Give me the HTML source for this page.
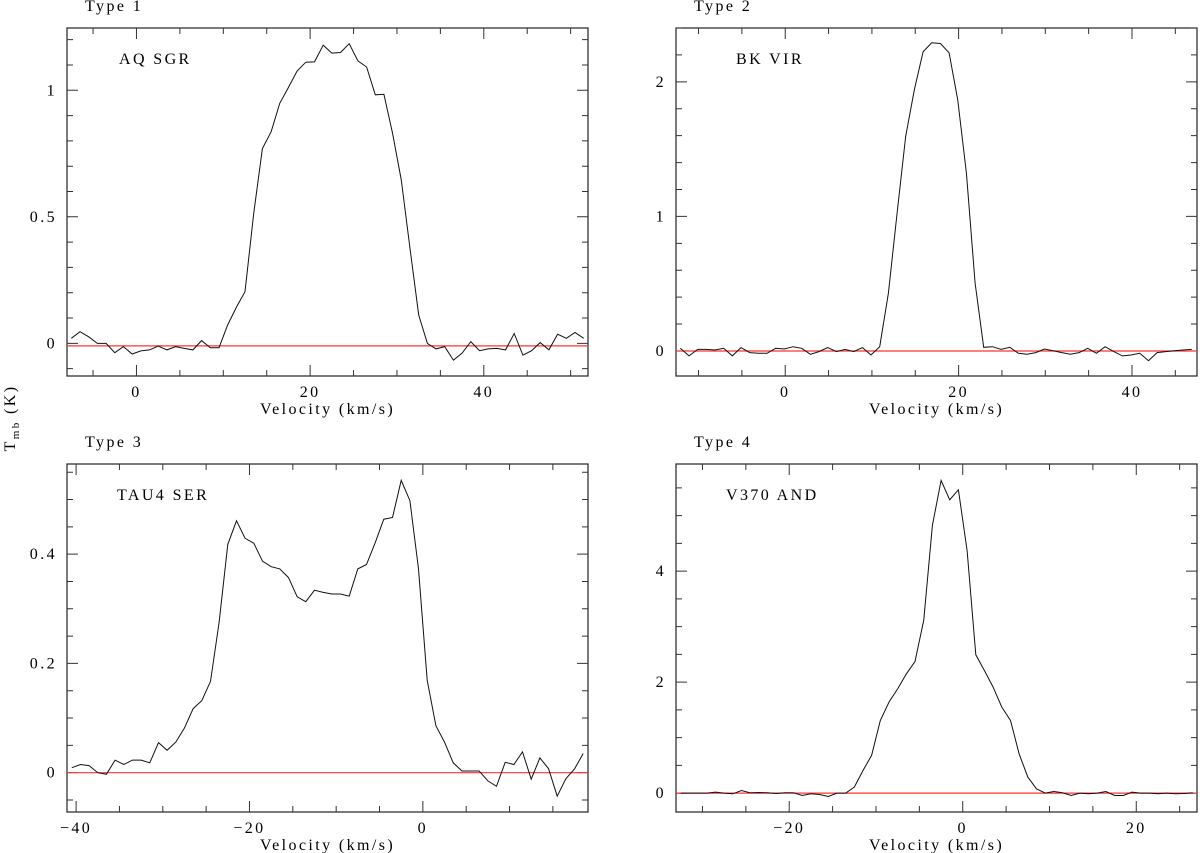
<!DOCTYPE html>
<html><head><meta charset="utf-8">
<style>
html,body{margin:0;padding:0;background:#fff;}
svg{display:block;font-family:"Liberation Serif","DejaVu Serif",serif;}
.lab{letter-spacing:2.4px;}
</style></head>
<body>
<svg id="fig" width="1200" height="853" viewBox="0 0 1200 853" xmlns="http://www.w3.org/2000/svg">
<text class="lab" transform="translate(15,418) rotate(-90)" text-anchor="middle" font-size="16" fill="#000">T<tspan font-size="11" dy="4">mb</tspan><tspan dy="-4"> (K)</tspan></text>
</svg>
<script>
// Panel 1: AQ SGR
const vel1 = [-7.5,-6.5,-5.5,-4.5,-3.5,-2.5,-1.5,-0.5,0.5,1.5,2.5,3.5,4.5,5.5,6.5,7.5,8.5,9.5,10.5,11.5,12.5,13.5,14.5,15.5,16.5,17.5,18.5,19.5,20.5,21.5,22.5,23.5,24.5,25.5,26.5,27.5,28.5,29.5,30.5,31.5,32.5,33.5,34.5,35.5,36.5,37.5,38.5,39.5,40.5,41.5,42.5,43.5,44.5,45.5,46.5,47.5,48.5,49.5,50.5,51.5];
const tmb1 = [0.020,0.046,0.026,0,0,-0.037,-0.013,-0.042,-0.030,-0.026,-0.011,-0.026,-0.013,-0.020,-0.026,0.011,-0.017,-0.017,0.072,0.142,0.204,0.513,0.770,0.836,0.948,1.011,1.076,1.111,1.112,1.178,1.147,1.149,1.184,1.116,1.092,0.982,0.984,0.829,0.645,0.375,0.112,0,-0.022,-0.013,-0.066,-0.039,0.007,-0.029,-0.022,-0.020,-0.026,0.039,-0.047,-0.029,0.003,-0.026,0.036,0.020,0.043,0.020];
const xTicks1 = [0,20,40];
const yTicks1 = [0,0.5,1];
const yTickLabels1 = ["0","0.5","1"];
// Panel 2: BK VIR
const vel2 = [-12.1,-11.1,-10.1,-9.1,-8.1,-7.1,-6.1,-5.1,-4.1,-3.1,-2.1,-1.1,-0.1,0.9,1.9,2.9,3.9,4.9,5.9,6.9,7.9,8.9,9.9,10.9,11.9,12.9,13.9,14.9,15.9,16.9,17.9,18.9,19.9,20.9,21.9,22.9,23.9,24.9,25.9,26.9,27.9,28.9,29.9,30.9,31.9,32.9,33.9,34.9,35.9,36.9,37.9,38.9,39.9,40.9,41.9,42.9,43.9,44.9,45.9,46.9];
const tmb2 = [0.020,-0.037,0.012,0.012,0.007,0.020,-0.037,0.025,-0.012,-0.017,-0.017,0.020,0.015,0.032,0.020,-0.025,-0.005,0.025,-0.005,0.012,-0.005,0.025,-0.030,0.032,0.429,1.025,1.596,1.943,2.223,2.290,2.285,2.216,1.868,1.323,0.504,0.027,0.032,0.012,0.027,-0.017,-0.025,-0.012,0.015,0.002,-0.012,-0.025,-0.012,0.020,-0.017,0.032,-0.005,-0.037,-0.030,-0.017,-0.072,-0.012,-0.005,0.002,0.007,0.012];
const xTicks2 = [0,20,40];
const yTicks2 = [0,1,2];
const yTickLabels2 = ["0","1","2"];
// Panel 3: TAU4 SER
const vel3 = [-40.5,-39.5,-38.5,-37.5,-36.5,-35.5,-34.5,-33.5,-32.5,-31.5,-30.5,-29.5,-28.5,-27.5,-26.5,-25.5,-24.5,-23.5,-22.5,-21.5,-20.5,-19.5,-18.5,-17.5,-16.5,-15.5,-14.5,-13.5,-12.5,-11.5,-10.5,-9.5,-8.5,-7.5,-6.5,-5.5,-4.5,-3.5,-2.5,-1.5,-0.5,0.5,1.5,2.5,3.5,4.5,5.5,6.5,7.5,8.5,9.5,10.5,11.5,12.5,13.5,14.5,15.5,16.5,17.5,18.5];
const tmb3 = [0.009,0.015,0.013,0,-0.003,0.023,0.015,0.023,0.023,0.018,0.055,0.041,0.056,0.082,0.117,0.132,0.167,0.275,0.418,0.461,0.429,0.420,0.387,0.377,0.373,0.357,0.322,0.313,0.334,0.330,0.327,0.327,0.323,0.373,0.381,0.421,0.464,0.467,0.535,0.498,0.373,0.169,0.086,0.056,0.018,0.003,0.003,0.003,-0.015,-0.025,0.019,0.015,0.038,-0.012,0.027,0.007,-0.043,-0.011,0.007,0.035];
const xTicks3 = [-40,-20,0];
const yTicks3 = [0,0.2,0.4];
const yTickLabels3 = ["0","0.2","0.4"];
// Panel 4: V370 AND
const vel4 = [-32.5,-31.5,-30.5,-29.5,-28.5,-27.5,-26.5,-25.5,-24.5,-23.5,-22.5,-21.5,-20.5,-19.5,-18.5,-17.5,-16.5,-15.5,-14.5,-13.5,-12.5,-11.5,-10.5,-9.5,-8.5,-7.5,-6.5,-5.5,-4.5,-3.5,-2.5,-1.5,-0.5,0.5,1.5,2.5,3.5,4.5,5.5,6.5,7.5,8.5,9.5,10.5,11.5,12.5,13.5,14.5,15.5,16.5,17.5,18.5,19.5,20.5,21.5,22.5,23.5,24.5,25.5,26.5];
const tmb4 = [0,0,0,0,0.018,0,-0.012,0.048,0.006,0.012,0.006,-0.006,0.006,0.006,-0.042,-0.012,-0.024,-0.060,0,0,0.108,0.408,0.679,1.309,1.640,1.880,2.150,2.372,3.111,4.823,5.634,5.285,5.465,4.372,2.493,2.210,1.910,1.550,1.309,0.709,0.288,0.078,0,0.030,0.006,-0.042,0,-0.012,0,0.030,-0.042,-0.042,0.018,0,0,-0.012,0,-0.012,-0.006,0.006];
const xTicks4 = [-20,0,20];
const yTicks4 = [0,2,4];
const yTickLabels4 = ["0","2","4"];

const NS = "http://www.w3.org/2000/svg";
const svg = document.getElementById('fig');
function mk(tag, attrs, parent){
  const e = document.createElementNS(NS, tag);
  for (const k in attrs) e.setAttribute(k, attrs[k]);
  (parent||svg).appendChild(e);
  return e;
}
function panel(cfg){
  const g = mk('g', {});
  
  
  const L=cfg.x0, R=cfg.x1, T=cfg.y0, B=cfg.y1;
  const sx = v => L + (v - cfg.xmin) / (cfg.xmax - cfg.xmin) * (R - L);
  const sy = v => B - (v - cfg.ymin) / (cfg.ymax - cfg.ymin) * (B - T);
  const fr = mk('rect', {x:L, y:T, width:R-L, height:B-T, fill:'none', stroke:'#222', 'stroke-width':1.2}, g);
  
  
  let d = '';
  const xs = Math.ceil(cfg.xmin / cfg.xminor) * cfg.xminor;
  for (let v = xs; v <= cfg.xmax + 1e-9; v += cfg.xminor) {
    const isMaj = Math.abs(v / cfg.xmajor - Math.round(v / cfg.xmajor)) < 1e-6;
    const len = isMaj ? 11 : 6;
    const px = sx(v);
    d += `M${px},${B}v${-len}M${px},${T}v${len}`;
  }
  const ys = Math.ceil((cfg.ymin - 1e-9) / cfg.yminor) * cfg.yminor;
  for (let v = ys; v <= cfg.ymax + 1e-9; v += cfg.yminor) {
    const isMaj = Math.abs(v / cfg.ymajor - Math.round(v / cfg.ymajor)) < 1e-6;
    const len = isMaj ? 11 : 6;
    const py = sy(v);
    d += `M${L},${py}h${len}M${R},${py}h${-len}`;
  }
  const tk = mk('path', {d:d, stroke:'#333', 'stroke-width':1, fill:'none'}, g);
  
  
  cfg.xTicks.forEach(v => {
    const t = mk('text', {x:sx(v), y:B+21, 'text-anchor':'middle', 'font-size':16, class:'lab'}, g);
    t.textContent = v < 0 ? '\u2212' + Math.abs(v) : String(v);
    
    
  });
  cfg.yTicks.forEach((v, i) => {
    const t = mk('text', {x:L-10, y:sy(v)+5, 'text-anchor':'end', 'font-size':16, class:'lab'}, g);
    t.textContent = cfg.yLabels[i];
    
    
  });
  const xt = mk('text', {x:(L+R)/2, y:B+38, 'text-anchor':'middle', 'font-size':16, class:'lab'}, g);
  xt.textContent = 'Velocity (km/s)';
  
  
  const ti = mk('text', {x:L+18, y:T-17, 'font-size':16, class:'lab'}, g);
  ti.textContent = cfg.title;
  
  
  const st = mk('text', {x:L+cfg.labelDx, y:T+36, 'font-size':16, class:'lab'}, g);
  st.textContent = cfg.star;
  
  
  const bl = mk('line', {x1:L, x2:R, y1:sy(cfg.base), y2:sy(cfg.base), stroke:'#f33', 'stroke-width':1.2}, g);
  
  
  const pts = cfg.vel.map((v, i) => sx(v).toFixed(1) + ',' + sy(cfg.tmb[i]).toFixed(1)).join(' ');
  const pl = mk('polyline', {points:pts, fill:'none', stroke:'#111', 'stroke-width':1}, g);
  
  
}
panel({name:'panel-type-1', title:'Type 1', star:'AQ SGR', labelDx:52, x0:67, x1:588, y0:28, y1:376, xmin:-8, xmax:52, ymin:-0.129, ymax:1.246, xminor:5, xmajor:20, yminor:0.1, ymajor:0.5, xTicks:xTicks1, yTicks:yTicks1, yLabels:yTickLabels1, vel:vel1, tmb:tmb1, base:-0.01});
panel({name:'panel-type-2', title:'Type 2', star:'BK VIR', labelDx:60, x0:676, x1:1197, y0:28, y1:376, xmin:-12.6, xmax:47.5, ymin:-0.186, ymax:2.40, xminor:5, xmajor:20, yminor:0.2, ymajor:1, xTicks:xTicks2, yTicks:yTicks2, yLabels:yTickLabels2, vel:vel2, tmb:tmb2, base:0});
panel({name:'panel-type-3', title:'Type 3', star:'TAU4 SER', labelDx:50, x0:67, x1:588, y0:464, y1:812, xmin:-41.05, xmax:19.05, ymin:-0.072, ymax:0.565, xminor:5, xmajor:20, yminor:0.05, ymajor:0.2, xTicks:xTicks3, yTicks:yTicks3, yLabels:yTickLabels3, vel:vel3, tmb:tmb3, base:0});
panel({name:'panel-type-4', title:'Type 4', star:'V370 AND', labelDx:50, x0:676, x1:1197, y0:464, y1:812, xmin:-33.05, xmax:27.0, ymin:-0.34, ymax:5.93, xminor:5, xmajor:20, yminor:0.5, ymajor:2, xTicks:xTicks4, yTicks:yTicks4, yLabels:yTickLabels4, vel:vel4, tmb:tmb4, base:0});
</script>
</body></html>
